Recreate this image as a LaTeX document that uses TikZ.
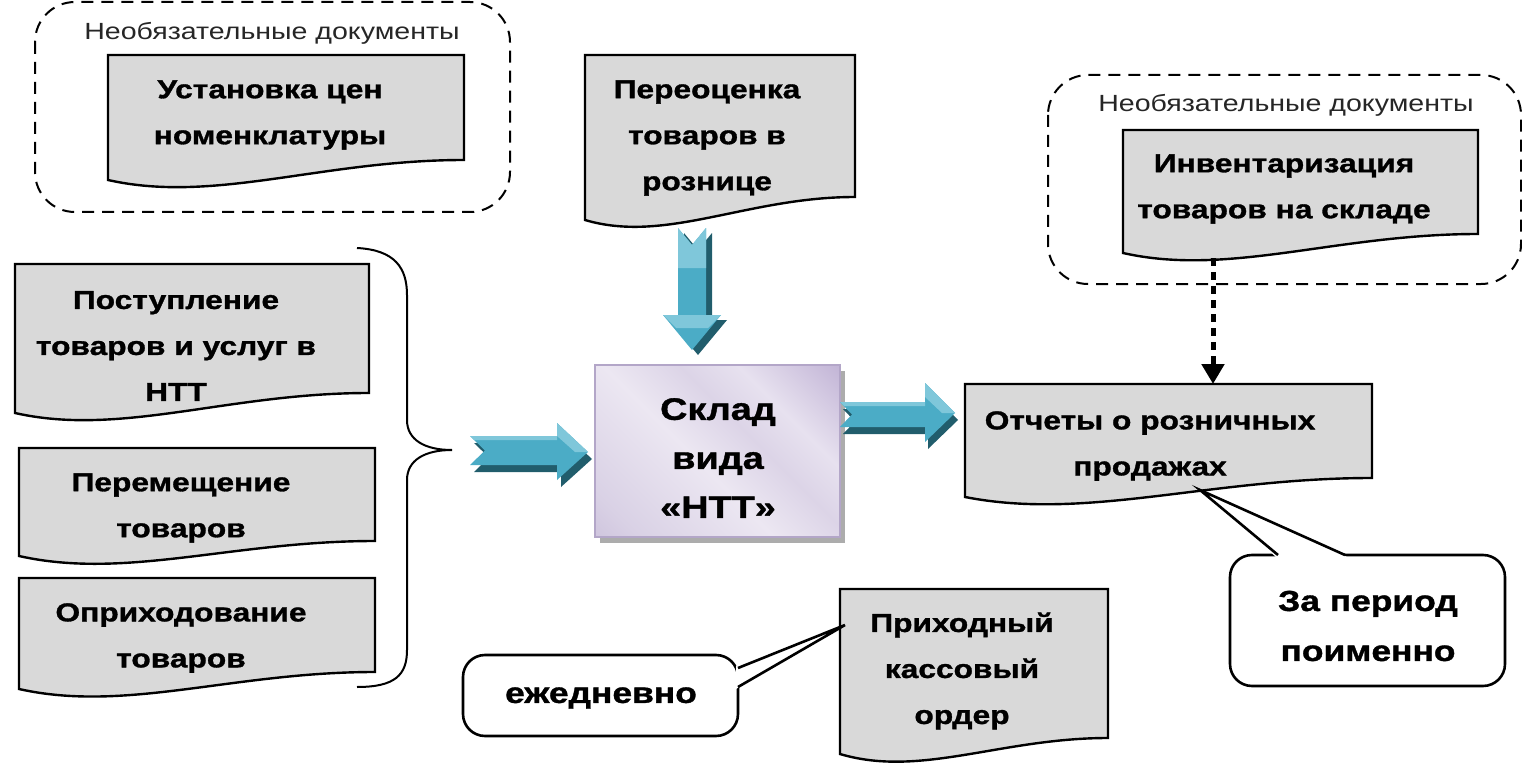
\documentclass[tikz,border=0pt]{standalone}
\usepackage{fontspec}
\setmainfont{Liberation Sans}[FakeStretch=1.22, BoldFeatures={FakeBold=1.2}]
\usetikzlibrary{arrows.meta}
\definecolor{docgray}{HTML}{D9D9D9}
\definecolor{arrblue}{HTML}{4BACC6}
\definecolor{arrlight}{HTML}{7FC7DA}
\definecolor{arrdark}{HTML}{215D6C}
\definecolor{labgray}{HTML}{262626}
\definecolor{lavA}{HTML}{BDAFD1}
\definecolor{lavB}{HTML}{D9D1E5}
\definecolor{lavC}{HTML}{ECE7F2}
\definecolor{lavD}{HTML}{DCD4E7}
\definecolor{lavE}{HTML}{E7E1EF}
\definecolor{lavF}{HTML}{C5B8D8}
\definecolor{lavG}{HTML}{A893C2}
\definecolor{lavborder}{HTML}{B3A6C8}
\pgfdeclarehorizontalshading{nttshade}{100bp}{color(0bp)=(lavA); color(22bp)=(lavB); color(45bp)=(lavC); color(58bp)=(lavD); color(68bp)=(lavE); color(84bp)=(lavF); color(100bp)=(lavG)}
\newcommand\docpath[5]{%
  \filldraw[docshape] (#1,#2) -- (#3,#2) -- (#3,#5)
    .. controls ({#1+0.6*(#3-#1)},#5) and ({#1+0.3*(#3-#1)},{#4+24}) .. (#1,#4) -- cycle;}
\tikzset{
  docshape/.style={fill=docgray, draw=black, line width=1.2pt, line join=miter},
  doctext/.style={font=\fontsize{13}{23}\selectfont\bfseries, align=center, inner sep=0pt},
  bigtext/.style={font=\fontsize{15.5}{24.5}\selectfont\bfseries, align=center, inner sep=0pt},
  calltext/.style={font=\fontsize{14.5}{25}\selectfont\bfseries, align=center, inner sep=0pt},
  optlabel/.style={font=\fontsize{11.7}{14}\selectfont, text=labgray, inner sep=0pt},
  optbox/.style={draw=black, line width=1pt, dash pattern=on 6pt off 4pt, rounded corners=20pt},
  callbox/.style={draw=black, fill=white, line width=1.3pt, rounded corners=11pt},
  callline/.style={draw=black, line width=1.3pt, line join=miter},
  blockarrow/.style={fill=arrblue},
  blockshadow/.style={fill=arrdark},
  blocklight/.style={fill=arrlight},
  dotarrow/.style={line width=2.5pt, dash pattern=on 4pt off 3pt, -{Triangle[width=11pt,length=10pt]}},
  bracestyle/.style={draw=black, line width=1pt}
}
\begin{document}
\begin{tikzpicture}[x=0.5pt,y=-0.5pt]
\useasboundingbox (0,0) rectangle (1522,765);

% optional-document frames
\draw[optbox] (35,2) rectangle (510,212);
\node[optlabel] (opt1) at (272,33) {Необязательные документы};
\draw[optbox] (1048,75) rectangle (1521,284);
\node[optlabel] (opt2) at (1286,105) {Необязательные документы};

% documents
\docpath{108}{55}{464}{180}{160}
\node[doctext] (ustan) at (270,115) {Установка цен\\номенклатуры};

\docpath{585}{55}{855}{220}{197}
\node[doctext] (pereoc) at (707,138) {Переоценка\\товаров в\\рознице};

\docpath{1123}{130}{1478}{253}{234}
\node[doctext] (invent) at (1284,189) {Инвентаризация\\товаров на складе};

\docpath{965}{384}{1372}{497}{478}
\node[doctext] (otchet) at (1150,446) {Отчеты о розничных\\продажах};

\docpath{15}{264}{369}{413}{393}
\node[doctext] (postup) at (176,346) {Поступление\\товаров и услуг в\\НТТ};

\docpath{19}{448}{375}{556}{541}
\node[doctext] (peremes) at (181,508) {Перемещение\\товаров};

\docpath{19}{578}{375}{689}{672}
\node[doctext] (oprikh) at (181,638) {Оприходование\\товаров};

\docpath{840}{589}{1108}{754}{738}
\node[doctext] (prikh) at (962,671) {Приходный\\кассовый\\ордер};

% brace
\draw[bracestyle] (357,248) .. controls (395,250) and (407,268) .. (407,295)
  -- (407,420) .. controls (407,440) and (425,450) .. (452,450)
  .. controls (425,450) and (407,460) .. (407,480)
  -- (407,650) .. controls (407,675) and (395,687) .. (357,687);

% central box
\fill[gray!65] (600,371) rectangle (845,543);
\shade[shading=nttshade, shading angle=45] (595,365) rectangle (840,537);
\draw[lavborder, line width=0.6pt] (595,365) rectangle (840,537);
\node[bigtext] (sklad) at (718,458) {Склад\\вида\\«НТТ»};

% block arrows
% down
\fill[blockshadow] (684,233) -- (698,250) -- (712,233) -- (712,320) -- (727,320) -- (698,355) -- (669,320) -- (684,320) -- cycle;
\fill[blockarrow] (678,228) -- (692,245) -- (706,228) -- (706,315) -- (721,315) -- (692,350) -- (663,315) -- (678,315) -- cycle;
\fill[blocklight] (678,228) -- (692,245) -- (706,228) -- (706,268) -- (678,268) -- cycle;
\fill[blocklight] (663,315) -- (721,315) -- (708,328) -- (676,328) -- cycle;
% left
\fill[blockshadow] (474,443) -- (561,443) -- (561,430) -- (592,459) -- (561,487) -- (561,472) -- (474,472) -- (489,457.5) -- cycle;
\fill[blockarrow] (470,436) -- (557,436) -- (557,423) -- (588,452) -- (557,480) -- (557,465) -- (470,465) -- (485,450.5) -- cycle;
\fill[blocklight] (557,423) -- (588,452) -- (575,452) -- (557,436) -- cycle;
\fill[blocklight] (470,436) -- (557,436) -- (557,440) -- (474,440) -- cycle;
% right
\fill[blockshadow] (843,409) -- (928,409) -- (928,390) -- (958,420) -- (928,449) -- (928,434) -- (843,434) -- (855,421.5) -- cycle;
\fill[blockarrow] (840,402) -- (925,402) -- (925,383) -- (955,413) -- (925,442) -- (925,427) -- (840,427) -- (852,414.5) -- cycle;
\fill[blocklight] (925,383) -- (955,413) -- (942,413) -- (925,397) -- cycle;
\fill[blocklight] (840,402) -- (925,402) -- (925,406) -- (844,406) -- cycle;

% dotted connector
\coordinate (invB) at (1213,258);
\coordinate (otchT) at (1213,384);
\draw[dotarrow] (invB) -- (otchT);

% callouts
\draw[callbox] (1230,555) rectangle (1505,686);
\coordinate (tipA) at (1200,490);
\fill[white] (1276,557) -- (tipA) -- (1347,557) -- cycle;
\draw[callline] (1278,555) -- (tipA) -- (1345,555);
\node[calltext] (period) at (1368,626) {За период\\поименно};

\draw[callbox] (463,655) rectangle (738,736);
\coordinate (tipB) at (845,625);
\fill[white] (736,666) -- (tipB) -- (736,689) -- cycle;
\draw[callline] (738,668) -- (tipB) -- (738,687);
\node[calltext] (daily) at (601,698) {ежедневно};
\end{tikzpicture}
\end{document}
